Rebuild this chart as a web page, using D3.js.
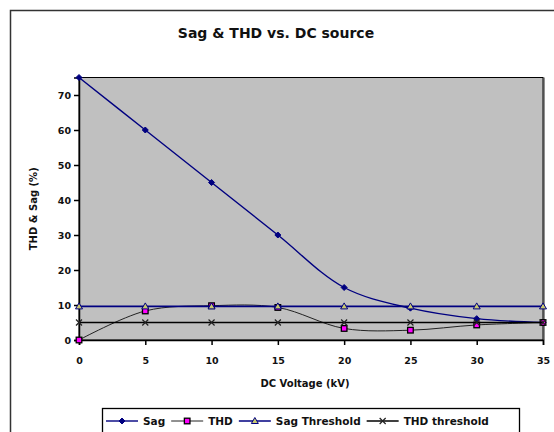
<!DOCTYPE html>
<html>
<head>
<meta charset="utf-8">
<script src="https://cdn.jsdelivr.net/npm/d3@7"></script>
<style>
  body { margin: 0; background: #fff; }
  text { font-family: "DejaVu Sans", Arial, sans-serif; font-weight: bold; fill: #111; }
</style>
</head>
<body>
<svg id="chart" width="554" height="432"></svg>
<script>
// data
const voltage = [0, 5, 10, 15, 20, 25, 30, 35];
const sag = [75, 60, 45, 30, 15, 9.1, 6.1, 5];
const thd = [0, 8.3, 9.8, 9.3, 3.3, 2.8, 4.3, 5];
const sagThreshold = [9.6, 9.6, 9.6, 9.6, 9.6, 9.6, 9.6, 9.6];
const thdThreshold = [5, 5, 5, 5, 5, 5, 5, 5];
const xTicks = [0, 5, 10, 15, 20, 25, 30, 35];
const yTicks = [0, 10, 20, 30, 40, 50, 60, 70];

const series = [
    {name: 'Sag', values: sag, color: '#000080', width: 1.4, smooth: true, marker: 'diamond'},
    {name: 'THD', values: thd, color: '#222', width: 1, smooth: true, marker: 'square'},
    {name: 'Sag Threshold', values: sagThreshold, color: '#000080', width: 1.6, smooth: false, marker: 'triangle'},
    {name: 'THD threshold', values: thdThreshold, color: '#000', width: 1.6, smooth: false, marker: 'star'}
];

let svg = d3.select('#chart');

// outer chart frame
svg.append('rect')
    .attr('x', 10.5).attr('y', 10.5)
    .attr('width', 560).attr('height', 450)
    .attr('fill', '#fff')
    .attr('stroke', '#333').attr('stroke-width', 1.5);

let xScale = d3.scaleLinear().domain([0, 35]).range([79, 543]);
let yScale = d3.scaleLinear().domain([0, 75]).range([340, 77.5]);

// plot area
svg.append('rect')
    .attr('x', xScale(0)).attr('y', yScale(75))
    .attr('width', xScale(35) - xScale(0))
    .attr('height', yScale(0) - yScale(75))
    .attr('fill', '#c0c0c0')
    .attr('stroke', '#000').attr('stroke-width', 1);
svg.append('line')
    .attr('x1', xScale(35) + 1).attr('x2', xScale(35) + 1)
    .attr('y1', yScale(75)).attr('y2', yScale(0))
    .attr('stroke', '#222').attr('stroke-width', 1);

// axes
let xAxis = svg.append('g')
    .attr('transform', `translate(0,${yScale(0)})`)
    .call(d3.axisBottom(xScale).tickValues(xTicks).tickSize(5).tickPadding(12));
let yAxis = svg.append('g')
    .attr('transform', `translate(${xScale(0)},0)`)
    .call(d3.axisLeft(yScale).tickValues(yTicks).tickSize(5).tickPadding(3));
[xAxis, yAxis].forEach(function(ax){
    ax.select('.domain').attr('stroke', '#000').attr('stroke-width', 1.5);
    ax.selectAll('.tick line').attr('stroke', '#000').attr('stroke-width', 1.5);
    ax.selectAll('.tick text')
        .attr('fill', '#111')
        .style('font-family', '"DejaVu Sans", Arial, sans-serif')
        .style('font-weight', 'bold')
        .style('font-size', '9.5px');
});

// titles
svg.append('text')
    .attr('x', 276).attr('y', 38)
    .attr('text-anchor', 'middle')
    .style('font-size', '14px')
    .text('Sag & THD vs. DC source');
svg.append('text')
    .attr('x', 305).attr('y', 387)
    .attr('text-anchor', 'middle')
    .style('font-size', '10px')
    .text('DC Voltage (kV)');
svg.append('text')
    .attr('transform', `translate(37,${(yScale(0) + yScale(75)) / 2}) rotate(-90)`)
    .attr('text-anchor', 'middle')
    .style('font-size', '10px')
    .text('THD & Sag (%)');

//画标记
function drawMarker(g, type, x, y){
    if(type === 'diamond'){
        g.append('path')
            .attr('d', `M${x},${y-3}L${x+3},${y}L${x},${y+3}L${x-3},${y}Z`)
            .attr('fill', '#000080').attr('stroke', '#000080');
    } else if(type === 'square'){
        g.append('rect')
            .attr('x', x - 2.8).attr('y', y - 2.8)
            .attr('width', 5.6).attr('height', 5.6)
            .attr('fill', '#ff00ff').attr('stroke', '#000').attr('stroke-width', 1.3);
    } else if(type === 'triangle'){
        g.append('path')
            .attr('d', `M${x},${y-3.5}L${x+3.5},${y+2.5}L${x-3.5},${y+2.5}Z`)
            .attr('fill', '#c8c870').attr('stroke', '#000080').attr('stroke-width', 1);
    } else if(type === 'star'){
        g.append('path')
            .attr('d', `M${x-3},${y-3}L${x+3},${y+3}M${x-3},${y+3}L${x+3},${y-3}`)
            .attr('stroke', '#222').attr('stroke-width', 1.2);
    }
}

let smoothLine = d3.line()
    .x(function(d, i){ return xScale(voltage[i]); })
    .y(function(d){ return yScale(d); })
    .curve(d3.curveCatmullRom.alpha(0.5));
let straightLine = d3.line()
    .x(function(d, i){ return xScale(voltage[i]); })
    .y(function(d){ return yScale(d); });

series.forEach(function(s){
    let g = svg.append('g').attr('class', 'series');
    g.append('path')
        .attr('d', (s.smooth ? smoothLine : straightLine)(s.values))
        .attr('fill', 'none')
        .attr('stroke', s.color)
        .attr('stroke-width', s.width);
    s.values.forEach(function(v, i){
        drawMarker(g, s.marker, xScale(voltage[i]), yScale(v));
    });
});

// legend
let legend = svg.append('g').attr('class', 'legend');
legend.append('rect')
    .attr('x', 102.5).attr('y', 408.5)
    .attr('width', 417).attr('height', 40)
    .attr('fill', '#fff')
    .attr('stroke', '#000').attr('stroke-width', 1.3);
let lx = 106;
const ly = 421;
series.forEach(function(s){
    legend.append('line')
        .attr('x1', lx).attr('x2', lx + 32)
        .attr('y1', ly).attr('y2', ly)
        .attr('stroke', s.color).attr('stroke-width', s.width);
    drawMarker(legend, s.marker, lx + 16, ly);
    let t = legend.append('text')
        .attr('x', lx + 37).attr('y', ly + 3.5)
        .style('font-size', '10.5px')
        .text(s.name);
    lx += 37 + t.node().getComputedTextLength() + 6;
});
</script>
</body>
</html>
